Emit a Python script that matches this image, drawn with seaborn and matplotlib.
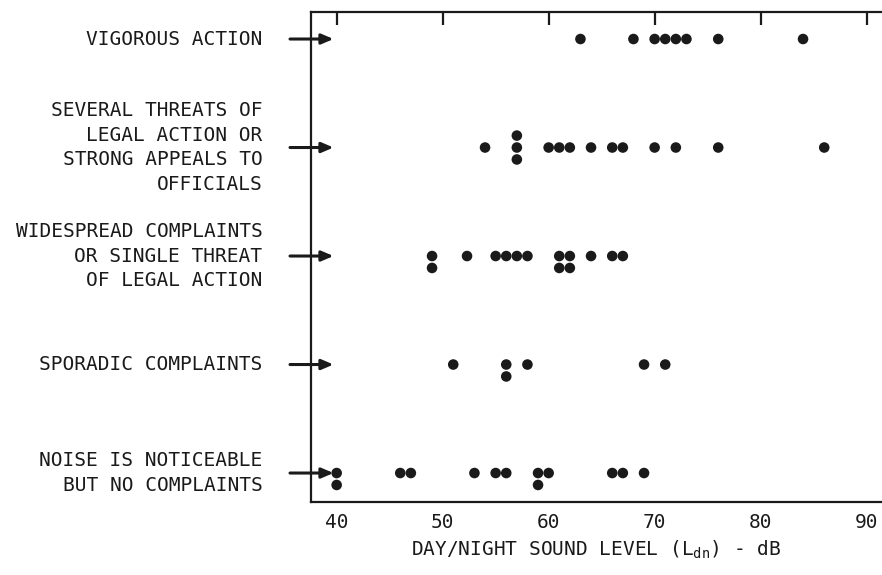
import matplotlib
matplotlib.use("Agg")
import matplotlib.pyplot as plt
import seaborn as sns
import pandas as pd

# Community reaction categories, top to bottom
categories = [
    "VIGOROUS ACTION",
    "SEVERAL THREATS OF\nLEGAL ACTION OR\nSTRONG APPEALS TO\nOFFICIALS",
    "WIDESPREAD COMPLAINTS\nOR SINGLE THREAT\nOF LEGAL ACTION",
    "SPORADIC COMPLAINTS",
    "NOISE IS NOTICEABLE\nBUT NO COMPLAINTS",
]

# Day/night sound level (dB) of each case, per reaction category
vigorous_action = [63, 68, 70, 71, 72, 73, 76, 84]
several_threats = [54, 57, 57, 57, 60, 61, 62, 64, 66, 67, 70, 72, 76, 86]
widespread_complaints = [49, 49, 52.3, 55, 56, 57, 58, 61, 61, 62, 62, 64, 66, 67]
sporadic_complaints = [51, 56, 56, 58, 69, 71]
noticeable_no_complaints = [40, 40, 46, 47, 53, 55, 56, 59, 59, 60, 66, 67, 69]

x_ticks = [40, 50, 60, 70, 80, 90]

series = [vigorous_action, several_threats, widespread_complaints,
          sporadic_complaints, noticeable_no_complaints]

# Repeated values are stacked vertically around the row
STACK_STEP = 0.11
records = []
for row, values in enumerate(series):
    totals = {v: values.count(v) for v in values}
    seen = {}
    for v in values:
        k = seen.get(v, 0)
        seen[v] = k + 1
        level = k - (totals[v] - 1) // 2
        records.append({"ldn": v, "row": row + level * STACK_STEP})
df = pd.DataFrame(records)

sns.set_style("white")
plt.rcParams["font.family"] = ["DejaVu Sans Mono", "DejaVu Sans"]
plt.rcParams["mathtext.fontset"] = "custom"
plt.rcParams["mathtext.rm"] = "DejaVu Sans Mono"

ink = "#1a1a1a"
W, H = 882, 575
fig = plt.figure(figsize=(W / 100, H / 100), dpi=100)
ax = fig.add_axes([311 / W, 1 - 502 / H, 1 - 311 / W, (502 - 12) / H])

sns.scatterplot(data=df, x="ldn", y="row", color=ink, s=58,
                edgecolor="none", legend=False, ax=ax, zorder=3)

ax.set_xlim(37.58, 91.45)
ax.set_ylim(4.267, -0.249)

# Reaction-level arrows crossing the left axis
for row in range(len(categories)):
    ax.annotate("", xy=(39.7, row), xytext=(35.6, row),
                arrowprops=dict(arrowstyle="-|>,head_length=0.7,head_width=0.3",
                                lw=2.2, color=ink, shrinkA=0, shrinkB=0),
                annotation_clip=False, zorder=4)

ax.set_yticks(range(len(categories)))
ax.set_yticklabels(categories, fontsize=14, color=ink, linespacing=1.36)
for lab in ax.get_yticklabels():
    lab.set_verticalalignment("center")
ax.tick_params(axis="y", length=0, pad=35)

ax.set_xticks(x_ticks)
ax.set_xticklabels([str(t) for t in x_ticks], fontsize=14, color=ink)
ax.tick_params(axis="x", direction="in", top=True, labeltop=False,
               length=9.5, width=1.6, color=ink, pad=8)

ax.set_xlabel(r"DAY/NIGHT SOUND LEVEL (L$_{\rm dn}$) - dB", fontsize=14,
              color=ink, labelpad=5)
ax.set_ylabel("")

for side in ["left", "top", "bottom"]:
    ax.spines[side].set_linewidth(1.6)
    ax.spines[side].set_color(ink)
ax.spines["right"].set_visible(False)

fig.savefig("out.png", dpi=100)
